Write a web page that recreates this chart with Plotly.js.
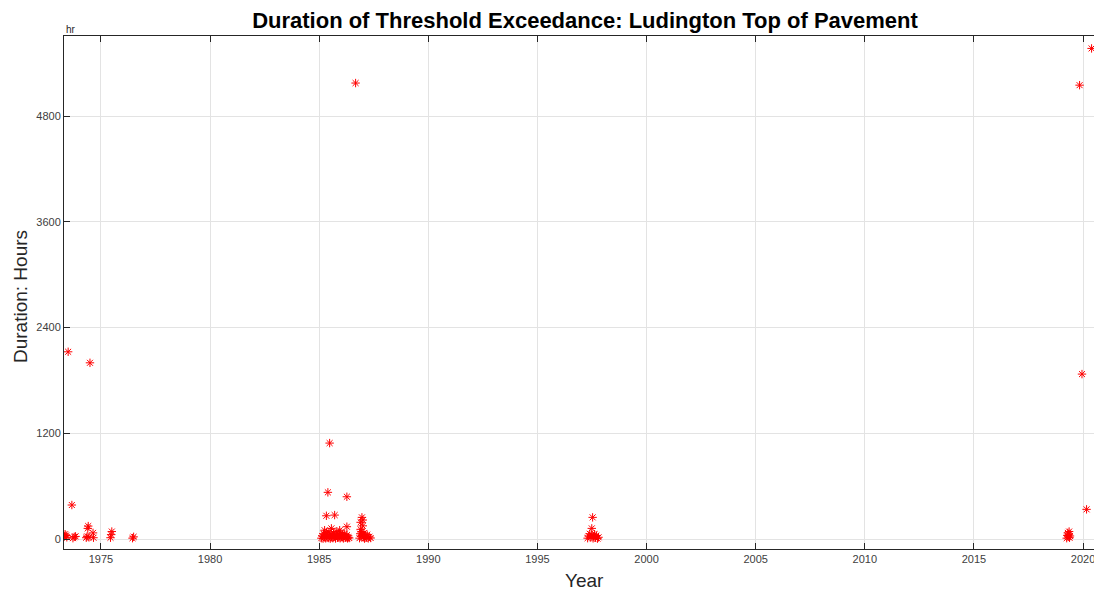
<!DOCTYPE html>
<html>
<head>
<meta charset="utf-8">
<script src="https://cdn.plot.ly/plotly-3.0.1.min.js"></script>
<style>
html,body{margin:0;padding:0;overflow:hidden;background:#fff;}
#chart{width:1106px;height:592px;}
</style>
</head>
<body>
<div id="chart"></div>
<script>
// Exceedance events: start year (decimal) and duration in hours
const years = [
  1973.33, 1973.36, 1973.40, 1973.44, 1973.50, 1973.67, 1973.72, 1973.78, 1973.84,
  1974.33, 1974.37, 1974.40, 1974.42, 1974.45, 1974.50, 1974.64, 1974.66,
  1975.44, 1975.47, 1975.50, 1976.45, 1976.50,
  1985.10, 1985.14, 1985.18, 1985.20, 1985.24, 1985.25, 1985.27, 1985.30, 1985.33, 1985.33,
  1985.36, 1985.39, 1985.40, 1985.42, 1985.45, 1985.48, 1985.48, 1985.51, 1985.54, 1985.56,
  1985.57, 1985.60, 1985.63, 1985.66, 1985.69, 1985.71, 1985.72, 1985.75, 1985.78, 1985.81,
  1985.84, 1985.87, 1985.90, 1985.93, 1985.94, 1985.96, 1985.99, 1986.02, 1986.05, 1986.08,
  1986.11, 1986.14, 1986.17, 1986.20, 1986.23, 1986.27, 1986.27, 1986.27, 1986.30, 1986.34,
  1986.38, 1986.67,
  1986.85, 1986.88, 1986.90, 1986.90, 1986.92, 1986.95, 1986.96, 1986.97, 1987.00, 1987.00,
  1987.02, 1987.05, 1987.08, 1987.12, 1987.16, 1987.20, 1987.25, 1987.30, 1987.36,
  1997.30, 1997.35, 1997.40, 1997.45, 1997.49, 1997.50, 1997.53, 1997.55, 1997.58, 1997.62,
  1997.66, 1997.70, 1997.75, 1997.80,
  2019.25, 2019.28, 2019.30, 2019.32, 2019.34, 2019.36, 2019.38, 2019.40,
  2019.84, 2019.95, 2020.16, 2020.39
];
const hours = [
  30, 55, 40, 20, 2125, 386, 10, 25, 30,
  15, 30, 121, 147, 20, 2000, 70, 15,
  15, 50, 85, 10, 25,
  10, 35, 5, 60, 20, 100, 45, 8, 70, 264,
  25, 50, 530, 12, 80, 30, 1089, 5, 55, 121,
  20, 40, 10, 65, 28, 272, 48, 6, 85, 35,
  15, 58, 22, 42, 100, 9, 72, 30, 18, 50,
  7, 38, 60, 14, 26, 45, 140, 480, 8, 20,
  12, 5175,
  10, 60, 110, 190, 30, 85, 246, 45, 150, 216,
  20, 70, 5, 35, 15, 50, 8, 25, 12,
  10, 35, 60, 20, 121, 45, 246, 8, 30, 55,
  15, 40, 5, 20,
  10, 40, 70, 25, 55, 85, 15, 35,
  5151, 1872, 337, 5568
];
const xTicks = [1975, 1980, 1985, 1990, 1995, 2000, 2005, 2010, 2015, 2020];
const yTicks = [0, 1200, 2400, 3600, 4800];

const axisColor = '#262626';
const tickTextColor = '#404040';
const gridColor = '#e3e3e3';
const fontFam = 'Liberation Sans, Arial, Helvetica, sans-serif';

const trace = {
  x: years,
  y: hours,
  type: 'scatter',
  mode: 'markers',
  marker: {
    symbol: 'asterisk-open',
    size: 7,
    color: '#ff0000',
    line: {color: '#ff0000', width: 1}
  },
  hoverinfo: 'x+y'
};

const layout = {
  width: 1106,
  height: 592,
  margin: {l: 64, r: 0, t: 36, b: 43},
  paper_bgcolor: '#ffffff',
  plot_bgcolor: '#ffffff',
  showlegend: false,
  font: {family: fontFam, color: axisColor},
  title: {
    text: '<b>Duration of Threshold Exceedance: Ludington Top of Pavement</b>',
    font: {family: fontFam, size: 22, color: '#000000'},
    xref: 'paper', x: 0.5, xanchor: 'center',
    yref: 'container', y: 1 - 20 / 592, yanchor: 'middle'
  },
  xaxis: {
    range: [1973.31, 2021.05],
    tickvals: xTicks,
    ticktext: xTicks.map(String),
    ticks: 'inside',
    ticklen: 6,
    tickcolor: axisColor,
    tickfont: {family: fontFam, size: 11, color: tickTextColor},
    showline: true,
    linecolor: axisColor,
    linewidth: 1,
    mirror: 'ticks',
    showgrid: true,
    gridcolor: gridColor,
    zeroline: false
  },
  yaxis: {
    range: [-113, 5709],
    tickvals: yTicks,
    ticktext: yTicks.map(String),
    ticks: 'inside',
    ticklen: 6,
    tickcolor: axisColor,
    tickfont: {family: fontFam, size: 11, color: tickTextColor},
    showline: true,
    linecolor: axisColor,
    linewidth: 1,
    mirror: 'ticks',
    showgrid: true,
    gridcolor: gridColor,
    zeroline: false
  },
  annotations: [
    {
      text: 'Year', xref: 'paper', yref: 'paper',
      x: (584 - 64) / 1042, y: (549 - 580) / 513,
      xanchor: 'center', yanchor: 'middle', showarrow: false,
      font: {family: fontFam, size: 19, color: axisColor}
    },
    {
      text: 'Duration: Hours', xref: 'paper', yref: 'paper',
      x: (20 - 64) / 1042, y: (549 - 297) / 513, textangle: -90,
      xanchor: 'center', yanchor: 'middle', showarrow: false,
      font: {family: fontFam, size: 19, color: axisColor}
    },
    {
      text: 'hr', xref: 'paper', yref: 'paper',
      x: 0, y: (549 - 30) / 513,
      xanchor: 'left', yanchor: 'middle', showarrow: false,
      font: {family: fontFam, size: 10, color: axisColor}
    }
  ]
};

Plotly.newPlot('chart', [trace], layout, {displayModeBar: false, staticPlot: true});
</script>
</body>
</html>
